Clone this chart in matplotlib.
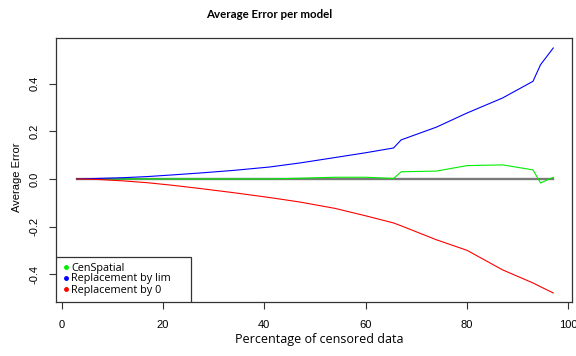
"""Average error per model versus percentage of censored data."""

import matplotlib

matplotlib.use("Agg")

import matplotlib.pyplot as plt
from matplotlib.lines import Line2D
from matplotlib.patches import Rectangle

# percentage of censored data (x) and the mean error of each model
censored_pct = [3, 7, 12, 17, 22, 28, 34, 41, 47, 54, 60, 65.5, 67, 74, 80, 87, 93, 94.5, 97]
cen_spatial = [0.0, 0.0, 0.0, 0.0, 0.0, 0.0, 0.0, 0.0, 0.003, 0.007, 0.007, 0.002,
               0.03, 0.033, 0.056, 0.059, 0.038, -0.017, 0.007]
repl_lim = [0.0, 0.002, 0.005, 0.01, 0.017, 0.026, 0.036, 0.05, 0.067, 0.09, 0.11, 0.13,
            0.164, 0.218, 0.277, 0.34, 0.41, 0.48, 0.55]
repl_zero = [0.0, -0.002, -0.008, -0.016, -0.027, -0.042, -0.058, -0.078, -0.097, -0.124,
             -0.155, -0.185, -0.197, -0.256, -0.3, -0.382, -0.437, -0.453, -0.479]

series_labels = ["CenSpatial", "Replacement by lim", "Replacement by 0"]
series_colors = ["#00ee00", "#0000ff", "#ff0000"]

x_ticks = [0, 20, 40, 60, 80, 100]
y_ticks = [-0.4, -0.2, 0.0, 0.2, 0.4]

W, H = 576, 356
fig = plt.figure(figsize=(W / 100, H / 100), dpi=100)
ax = fig.add_axes([56 / W, 1 - 302 / H, (572 - 56) / W, (302 - 38) / H])

ax.plot(censored_pct, [0] * len(censored_pct), color="#7a7a7a", linewidth=1.7)
for values, color in zip([cen_spatial, repl_lim, repl_zero], series_colors):
    ax.plot(censored_pct, values, color=color, linewidth=0.8)

ax.set_xlim(-1.1, 100.7)
ax.set_ylim(-0.517, 0.592)
ax.set_xticks(x_ticks)
ax.set_xticklabels([str(t) for t in x_ticks], fontsize=8, family="Liberation Sans")
ax.set_yticks(y_ticks)
ax.set_yticklabels([f"{t:.1f}" for t in y_ticks], fontsize=8, family="Liberation Sans",
                   rotation=90, va="center")
ax.tick_params(direction="out", length=5, width=0.8, color="#333333", pad=7)
ax.tick_params(axis="x", pad=8)
for spine in ax.spines.values():
    spine.set_color("#333333")
    spine.set_linewidth(0.9)

fig.text(269 / W, 1 - 14 / H, "Average Error per model", ha="center", va="center",
         fontsize=8.3, fontweight="bold", family="Lato")
fig.text(319 / W, 1 - 340 / H, "Percentage of censored data", ha="center", va="center",
         fontsize=9, family="Open Sans")
fig.text(17 / W, 1 - 177 / H, "Average Error", ha="center", va="center", rotation=90,
         fontsize=8, family="Liberation Sans")

# legend box drawn as in R: flush with the bottom-left corner, with extra room on the right
ax.add_patch(Rectangle((0, 0), (191 - 56) / 516, (302 - 257) / 264, transform=ax.transAxes,
                       facecolor="white", edgecolor="#333333", linewidth=0.9, zorder=4))
handles = [Line2D([], [], color=c, marker="o", markersize=2.5, linestyle="none")
           for c in series_colors]
leg = ax.legend(handles, series_labels, loc="lower left", bbox_to_anchor=(0.002, 0.0),
                borderaxespad=0, frameon=False, handlelength=0.4, handletextpad=0.3,
                labelspacing=0.0, borderpad=0.6,
                prop={"family": "Open Sans", "size": 7.8})
leg.set_zorder(5)

fig.savefig("out.png", dpi=100)
